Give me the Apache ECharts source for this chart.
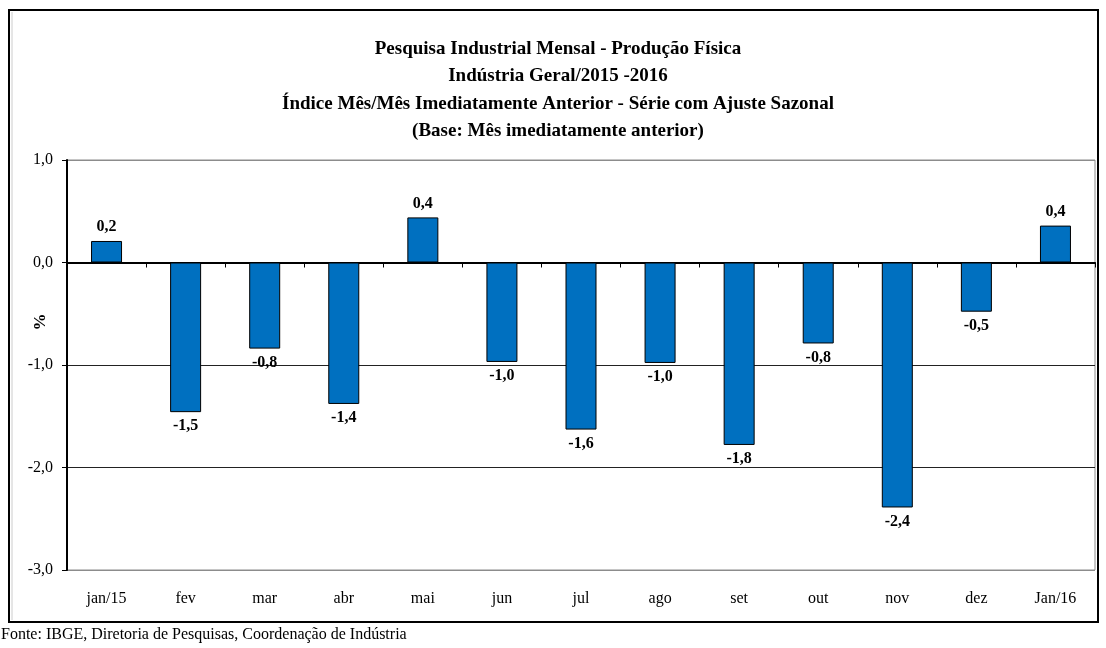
<!DOCTYPE html>
<html>
<head>
<meta charset="utf-8">
<script src="https://cdn.jsdelivr.net/npm/echarts@6/dist/echarts.min.js"></script>
<style>
    html, body { margin: 0; padding: 0; background: #fff; }
    #chart { width: 1106px; height: 648px; }
</style>
</head>
<body>
<div id="chart"></div>
<script>
    // dados
    var months = ['jan/15', 'fev', 'mar', 'abr', 'mai', 'jun', 'jul', 'ago', 'set', 'out', 'nov', 'dez', 'Jan/16'];
    var values = [0.21, -1.46, -0.84, -1.38, 0.44, -0.97, -1.63, -0.98, -1.78, -0.79, -2.39, -0.48, 0.36];
    var yTicks = [-3, -2, -1, 0, 1];

    var serif = '"Liberation Serif", "DejaVu Serif", serif';
    function fmt(v) { return v.toFixed(1).replace('.', ','); }

    var chart = echarts.init(document.getElementById('chart'));
    chart.setOption({
        animation: false,
        title: {
            text: 'Pesquisa Industrial Mensal - Produção Física\nIndústria Geral/2015 -2016\nÍndice Mês/Mês Imediatamente Anterior - Série com Ajuste Sazonal\n(Base: Mês imediatamente anterior)',
            left: 553,
            textAlign: 'center',
            top: 30,
            textStyle: { fontFamily: serif, fontWeight: 'bold', fontSize: 19, lineHeight: 27.5, color: '#000' }
        },
        graphic: [
            { type: 'rect', shape: { x: 9, y: 10, width: 1089, height: 612 }, style: { fill: 'none', stroke: '#000', lineWidth: 2 } },
            { type: 'line', shape: { x1: 12, y1: 12, x2: 12, y2: 620 }, style: { stroke: '#ccc', lineWidth: 1 } },
            // rótulo do eixo y
            { type: 'text', x: 41, y: 322, rotation: Math.PI / 2, style: { text: '%', font: 'bold 17px ' + serif, fill: '#000', align: 'center', verticalAlign: 'middle' } },
            { type: 'text', left: 1, top: 627, style: { text: 'Fonte: IBGE, Diretoria de Pesquisas, Coordenação de Indústria', font: '16px ' + serif, fill: '#000' } }
        ],
        grid: { left: 67, right: 11, top: 160, bottom: 78, show: true, borderColor: '#8c8c8c', borderWidth: 1, outerBoundsMode: 'none' },
        xAxis: [{
            type: 'category',
            data: months,
            axisLine: { onZero: true, lineStyle: { color: '#000', width: 2 } },
            axisTick: { show: true, length: 5, lineStyle: { color: '#000', width: 1 } },
            axisLabel: { show: false }
        }, {
            type: 'category',
            data: months,
            position: 'bottom',
            axisLine: { show: false },
            axisTick: { show: false },
            axisLabel: { margin: 21, fontFamily: serif, fontSize: 16, color: '#000' }
        }],
        yAxis: {
            type: 'value',
            min: yTicks[0],
            max: yTicks[yTicks.length - 1],
            interval: 1,
            axisLine: { show: true, lineStyle: { color: '#000', width: 2 } },
            axisTick: { show: true, length: 5, lineStyle: { color: '#000' } },
            axisLabel: { margin: 14, fontFamily: serif, fontSize: 16, color: '#000', formatter: fmt },
            splitLine: { show: true, lineStyle: { color: ['#8c8c8c', '#222', '#222', '#222', '#8c8c8c'], width: 1 } }
        },
        series: [{
            type: 'bar',
            xAxisIndex: 0,
            barWidth: 31,
            itemStyle: { color: '#0070C0', borderColor: '#000', borderWidth: 1 },
            data: values.map(function (v) {
                return { value: v, label: { position: v < 0 ? 'bottom' : 'top' } };
            }),
            label: {
                show: true,
                distance: 6,
                fontFamily: serif,
                fontWeight: 'bold',
                fontSize: 16,
                color: '#000',
                formatter: function (p) { return fmt(p.value); }
            }
        }]
    });
</script>
</body>
</html>
